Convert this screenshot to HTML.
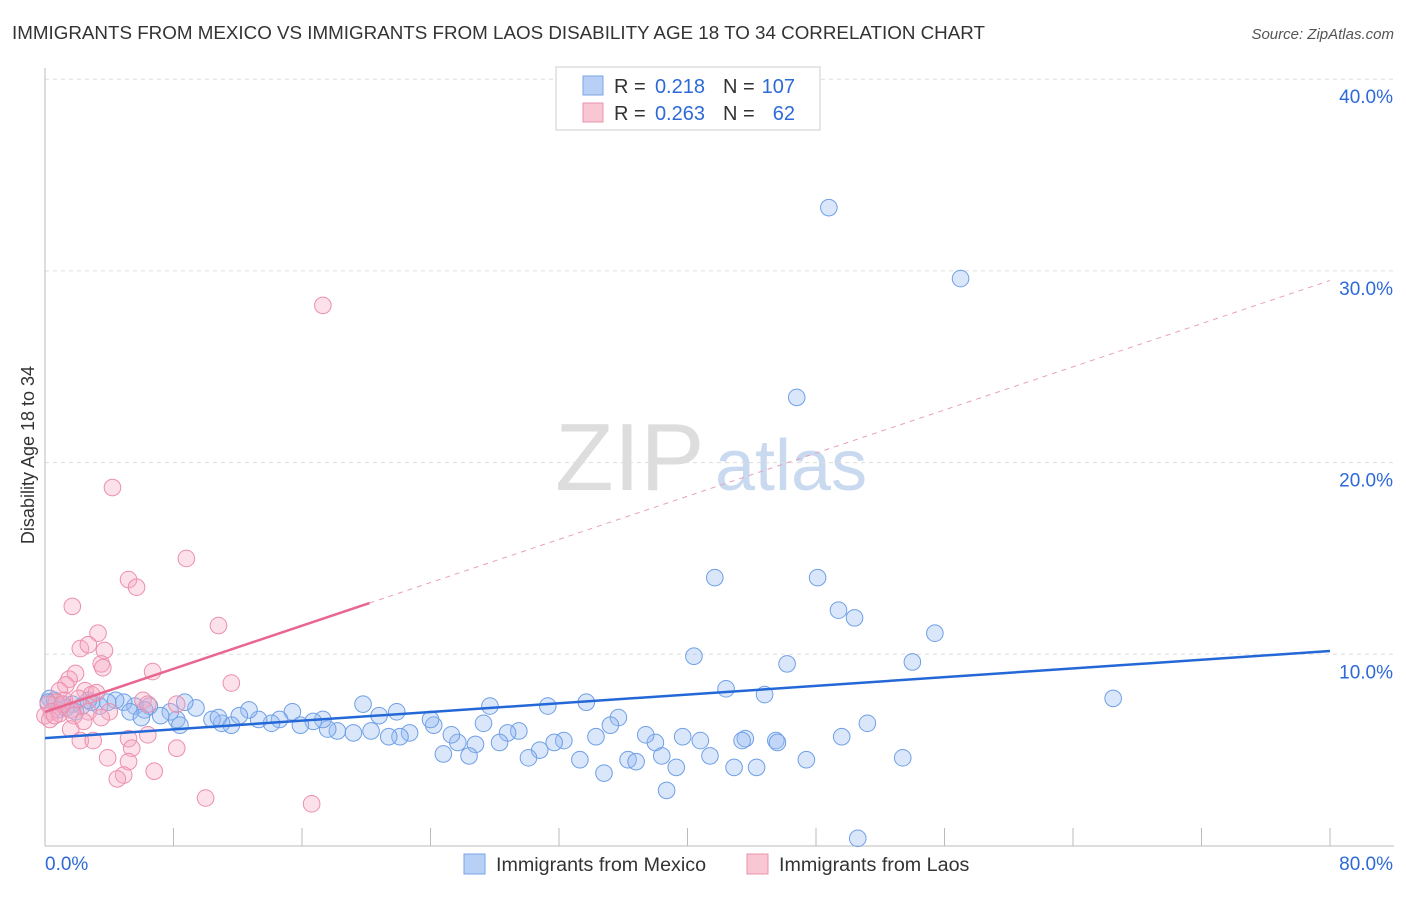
<!DOCTYPE html>
<html><head><meta charset="utf-8"><style>
body{margin:0;background:#fff;font-family:"Liberation Sans",sans-serif;}
svg text{font-family:"Liberation Sans",sans-serif;}
</style></head><body>
<svg id="chart" width="1406" height="892">
<text x="12" y="39" font-size="18.8" fill="#333">IMMIGRANTS FROM MEXICO VS IMMIGRANTS FROM LAOS DISABILITY AGE 18 TO 34 CORRELATION CHART</text>
<text x="1394" y="39" font-size="15" fill="#555" font-style="italic" text-anchor="end">Source: ZipAtlas.com</text>
<text x="555" y="490" font-size="96" fill="#ddd" font-family="Liberation Serif">ZIP</text>
<text x="715" y="490" font-size="72" fill="#c9daf0">atlas</text>
<text transform="translate(34,455) rotate(-90)" font-size="18" fill="#333" text-anchor="middle">Disability Age 18 to 34</text>
<g id="grid"></g><g id="marks"></g><g id="lines"></g>
<g>
<rect x="556" y="67" width="264" height="63" fill="#fff" stroke="#ccc"/>
<rect x="583" y="76" width="20" height="19" fill="#b8d0f5" stroke="#7aa4e4"/>
<rect x="583" y="103" width="20" height="19" fill="#f9c6d4" stroke="#ec93ad"/>
<text x="614" y="93" font-size="20" fill="#333">R =</text>
<text x="705" y="93" font-size="20" fill="#2d6ad8" text-anchor="end">0.218</text>
<text x="723" y="93" font-size="20" fill="#333">N =</text>
<text x="795" y="93" font-size="20" fill="#2d6ad8" text-anchor="end">107</text>
<text x="614" y="120" font-size="20" fill="#333">R =</text>
<text x="705" y="120" font-size="20" fill="#2d6ad8" text-anchor="end">0.263</text>
<text x="723" y="120" font-size="20" fill="#333">N =</text>
<text x="795" y="120" font-size="20" fill="#2d6ad8" text-anchor="end">62</text>
</g>
<g>
<rect x="464" y="854" width="21" height="20" fill="#b8d0f5" stroke="#7aa4e4"/>
<text x="496" y="871" font-size="19.7" fill="#333">Immigrants from Mexico</text>
<rect x="747" y="854" width="21" height="20" fill="#f9c6d4" stroke="#ec93ad"/>
<text x="779" y="871" font-size="19.7" fill="#333">Immigrants from Laos</text>
</g>
</svg>
<script>
const yTicks=[10,20,30,40];
const xTickLabels=["0.0%","80.0%"];
const blueX=[48.8,57.0,46.8,41.7,48.1,49.4,50.4,55.4,40.4,54.0,46.2,42.4,44.8,66.5,51.2,49.6,53.4,47.4,43.6,43.4,45.5,45.6,41.4,40.8,39.7,38.0,37.4,36.3,36.8,38.4,39.3,42.9,44.3,38.7,50.6,34.8,33.3,34.3,33.7,35.7,35.2,31.3,32.3,31.7,30.8,30.1,29.5,28.8,28.3,27.7,27.3,26.8,26.4,25.7,25.3,24.8,24.2,24.0,22.7,22.1,21.4,21.9,20.8,19.8,20.3,19.2,18.2,17.6,17.3,16.7,15.9,15.4,14.6,14.1,13.3,12.7,12.1,11.6,11.0,10.4,10.8,9.4,8.7,8.2,7.8,7.2,6.5,6.2,5.6,4.9,4.4,3.9,3.4,2.9,2.3,1.7,1.1,0.6,0.3,0.2,0.8,1.3,1.9,2.7,5.3,6.0,8.4];
const blueY=[33.3,29.6,23.4,14.0,14.0,12.3,11.9,11.1,9.9,9.6,9.5,8.2,7.9,7.7,6.4,5.7,4.6,4.5,5.6,5.5,5.5,5.4,4.7,5.5,5.7,5.4,5.8,4.5,4.4,4.7,4.1,4.1,4.1,2.9,0.4,3.8,4.5,5.7,7.5,6.7,6.3,7.3,5.5,5.4,5.0,4.6,6.0,5.9,5.4,7.3,6.4,5.3,4.7,5.4,5.8,4.8,6.3,6.6,5.9,5.7,5.7,7.0,6.8,7.4,6.0,5.9,6.0,6.1,6.6,6.5,6.3,7.0,6.6,6.4,6.6,7.1,6.8,6.3,6.4,6.6,6.7,7.2,7.5,6.6,7.0,6.8,7.3,7.1,7.3,7.5,7.6,7.5,7.3,7.5,7.3,7.4,7.4,7.6,7.7,7.5,7.1,7.2,7.0,7.6,7.0,6.7,6.3];
const pinkX=[17.3,4.2,8.8,5.2,5.7,1.7,10.8,3.3,2.2,2.7,3.7,3.5,3.6,6.7,1.9,1.5,1.3,11.6,0.9,2.5,2.9,3.2,2.1,6.1,1.2,0.7,0.2,0.4,0.0,0.9,1.6,2.7,4.0,1.8,6.4,8.2,3.5,2.4,1.6,5.2,6.4,2.2,3.0,8.2,5.4,3.9,5.2,6.8,4.9,4.5,10.0,16.6,0.3,1.1,0.6];
const pinkY=[28.2,18.7,15.0,13.9,13.5,12.5,11.5,11.1,10.3,10.5,10.2,9.5,9.3,9.1,9.0,8.7,8.4,8.5,8.1,8.1,7.9,8.0,7.7,7.6,7.6,7.5,7.4,7.0,6.8,6.9,7.1,7.0,7.0,6.8,7.4,7.4,6.7,6.5,6.1,5.6,5.8,5.5,5.5,5.1,5.1,4.6,4.4,3.9,3.7,3.5,2.5,2.2,6.6,7.4,6.8];
const blueFit=[5.63,10.17];
const pinkFit=[6.99,29.5];
const pinkSolidEnd=20.2;
const NS="http://www.w3.org/2000/svg";
const X=v=>45+v*(1285/80), Y=v=>846-v*19.17;
function mk(t,a,p){const e=document.createElementNS(NS,t);for(const k in a)e.setAttribute(k,a[k]);p.appendChild(e);return e;}
const grid=document.getElementById('grid'),marks=document.getElementById('marks'),lines=document.getElementById('lines');
yTicks.forEach(v=>{
 const l=mk('line',{x1:45,x2:1394,y1:Y(v),y2:Y(v),stroke:'#ddd','stroke-dasharray':'4,4'},grid);
 
 
 const t=mk('text',{x:1393,y:Y(v)+24,'font-size':19,fill:'#2d6ad8','text-anchor':'end'},grid);t.textContent=v.toFixed(1)+'%';
 
 
});
mk('line',{x1:45,x2:1394,y1:846,y2:846,stroke:'#bbb'},grid);
mk('line',{x1:45,x2:45,y1:68,y2:846,stroke:'#bbb'},grid);
for(let i=0;i<=10;i++){const x=X(i*8);mk('line',{x1:x,x2:x,y1:828,y2:846,stroke:'#bbb'},grid);}
[[0,45,'start'],[80,1393,'end']].forEach((d,i)=>{const t=mk('text',{x:d[1],y:870,'font-size':19,fill:'#2d6ad8','text-anchor':d[2]},grid);t.textContent=xTickLabels[i];
 
 });
blueX.forEach((v,i)=>{const c=mk('circle',{cx:X(v),cy:Y(blueY[i]),r:8.3,fill:'rgba(150,185,240,0.35)',stroke:'#6f9fe6','stroke-width':1},marks);
 
 });
pinkX.forEach((v,i)=>{const c=mk('circle',{cx:X(v),cy:Y(pinkY[i]),r:8.3,fill:'rgba(245,170,195,0.35)',stroke:'#ec8fac','stroke-width':1},marks);
 
 });
const bl=mk('line',{x1:X(0),y1:Y(blueFit[0]),x2:X(80),y2:Y(blueFit[1]),stroke:'#2468d8','stroke-width':2.5},lines);


const pv=x=>pinkFit[0]+(pinkFit[1]-pinkFit[0])*x/80;
const pd=mk('line',{x1:X(pinkSolidEnd),y1:Y(pv(pinkSolidEnd)),x2:X(80),y2:Y(pinkFit[1]),stroke:'#e8a0b8','stroke-width':1,'stroke-dasharray':'5,5'},lines);


const ps=mk('line',{x1:X(0),y1:Y(pinkFit[0]),x2:X(pinkSolidEnd),y2:Y(pv(pinkSolidEnd)),stroke:'#e8668f','stroke-width':2.5},lines);


</script>
</body></html>
